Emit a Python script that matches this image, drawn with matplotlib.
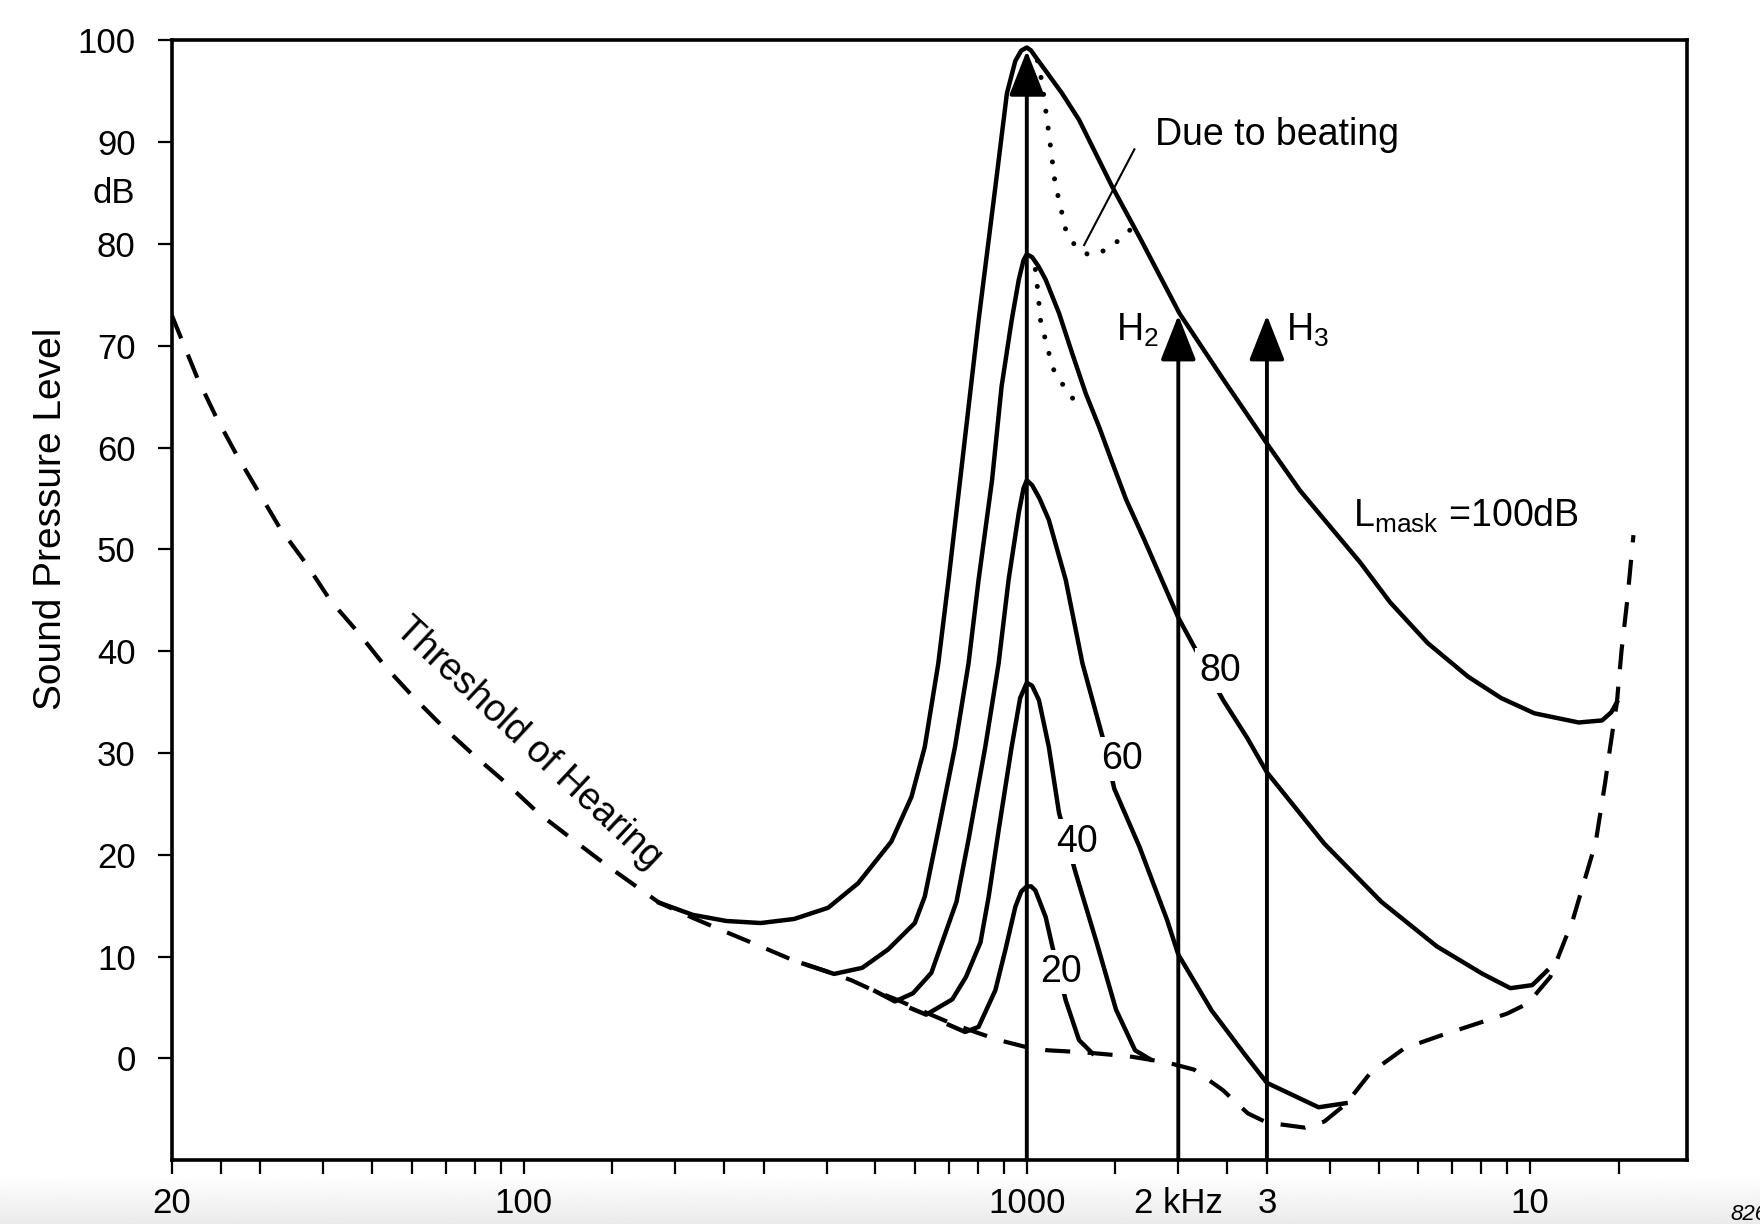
import numpy as np
import matplotlib
matplotlib.use("Agg")
import matplotlib.pyplot as plt

plt.rcParams['font.family'] = ['Liberation Sans', 'DejaVu Sans']
plt.rcParams['mathtext.fontset'] = 'custom'
plt.rcParams['mathtext.rm'] = 'Liberation Sans'
plt.rcParams['mathtext.it'] = 'Liberation Sans:italic'

# threshold of hearing (Hz, dB)
thr_f = [20, 22.5, 24.5, 26.9, 29.7, 32.8, 37.1, 41.3, 47, 53.1, 60.4, 69.4, 79.6, 93.1,
         107, 126, 146, 173, 186, 217, 253, 296, 345, 403, 447, 500, 550, 631, 711, 800,
         880, 1000, 1100, 1300, 1600, 1900, 2150, 2450, 2750, 3000, 3570, 3900, 4300,
         4820, 5630, 6600, 8050, 9000, 9900, 10970, 12160, 13500, 14100, 14400, 14880,
         15200, 15600, 16050]
thr_db = [73.0, 66.8, 63.0, 59.3, 55.7, 52.1, 48.5, 45.0, 41.8, 38.5, 35.5, 32.5, 29.8, 26.9,
          24.1, 21.4, 19.0, 16.4, 15.3, 13.8, 12.4, 11.0, 9.6, 8.5, 7.7, 6.6, 5.8, 4.5, 3.4, 2.5,
          1.8, 1.1, 0.8, 0.6, 0.2, -0.4, -1.1, -3.1, -5.4, -6.3, -6.8, -6.2, -4.5,
          -1.4, 1.0, 2.2, 3.6, 4.4, 5.4, 8.0, 13.6, 21.2, 27.1, 30.3, 35.0,
          40.1, 45.0, 51.4]

# masked thresholds for a 1 kHz masker
m100_f = [186, 217, 253, 296, 345, 403, 462, 538, 590, 627, 667, 699, 737, 802, 866, 913, 949,
          975, 1000, 1020, 1040, 1087, 1175, 1270, 1479, 1674, 2010, 2450, 3000, 3488, 4060,
          4600, 5272, 6260, 7530, 8760, 10200, 12490, 13900, 14500, 14880]
m100_db = [15.3, 14.1, 13.5, 13.3, 13.7, 14.8, 17.2, 21.3, 25.7, 30.6, 38.8, 47.0, 56.8, 72.5,
           85.6, 94.8, 98.0, 99.0, 99.3, 99.0, 98.4, 97.1, 94.8, 92.2, 85.6, 80.7, 73.2, 66.8,
           60.4, 55.8, 51.9, 48.7, 44.8, 40.8, 37.5, 35.4, 33.9, 33.0, 33.2, 34.0, 35.0]

m80_f = [360, 414, 471, 530, 599, 627, 667, 720, 766, 802, 853, 891, 933, 964, 985, 1000, 1025,
         1055, 1090, 1159, 1230, 1310, 1393, 1479, 1575, 1710, 2000, 2455, 2740, 3000, 3900,
         5060, 6530, 8050, 9140, 10100, 10800]
m80_db = [9.3, 8.3, 8.9, 10.7, 13.3, 15.9, 22.4, 30.6, 38.8, 47.0, 56.8, 66.0, 72.5, 76.5, 78.4,
          79.0, 78.7, 77.8, 76.5, 73.2, 69.3, 65.3, 62.0, 58.5, 54.9, 51.0, 43.3, 35.2, 31.5,
          28.1, 21.1, 15.4, 11.0, 8.3, 6.9, 7.2, 8.6]

m60_f = [500, 547, 594, 646, 725, 766, 827, 879, 920, 964, 985, 1000, 1025, 1060, 1106, 1195,
         1290, 1414, 1492, 1674, 1900, 2000, 2330, 2720, 3000, 3800, 4300]
m60_db = [6.6, 5.6, 6.4, 8.4, 15.4, 21.5, 30.6, 38.8, 47.0, 53.6, 56.0, 56.8, 56.3, 55.0, 52.9,
          47.0, 38.8, 31.6, 26.5, 20.8, 13.6, 10.2, 4.7, 0.3, -2.4, -4.8, -4.4]

m40_f = [590, 631, 711, 757, 809, 840, 879, 933, 970, 1000, 1025, 1057, 1106, 1159, 1251, 1378,
         1504, 1641, 1760]
m40_db = [4.9, 4.3, 5.8, 8.0, 11.4, 15.9, 22.4, 30.6, 35.4, 36.9, 36.6, 35.2, 30.6, 24.1, 18.2,
          11.3, 4.8, 0.8, -0.1]

m20_f = [700, 754, 802, 866, 907, 949, 975, 1000, 1020, 1040, 1090, 1124, 1195, 1270, 1350]
m20_db = [3.3, 2.6, 3.1, 6.7, 10.7, 14.9, 16.4, 16.9, 16.9, 16.5, 13.9, 11.0, 5.7, 1.8, 0.5]

# beating regions (dotted)
beat100_f = [1050, 1071, 1106, 1138, 1195, 1251, 1330, 1436, 1527, 1622]
beat100_db = [98.0, 96.0, 90.9, 86.0, 81.4, 79.7, 78.9, 79.4, 80.4, 81.6]
beat80_f = [1040, 1048, 1065, 1106, 1132, 1175, 1230, 1290]
beat80_db = [77.5, 76.1, 72.5, 69.3, 67.6, 66.3, 64.9, 64.0]

# masker and harmonics
tone_f = [1000, 2000, 3000]
tone_db = [99, 73, 73]

level_labels = ['20', '40', '60', '80']
level_label_f = [1168, 1256, 1544, 2420]
level_label_db = [8.5, 21.3, 29.4, 38.1]

xtick_pos = [20, 25, 30, 40, 50, 60, 70, 80, 90, 100, 150, 200, 250, 300, 400, 500, 600, 700,
             800, 900, 1000, 1500, 2000, 2500, 3000, 4000, 5000, 6000, 7000, 8000, 9000,
             10000, 15000]
xtick_lab = {20: '20', 100: '100', 1000: '1000', 2000: '2 kHz', 3000: '3', 10000: '10'}

fig = plt.figure(figsize=(17.6, 12.24), dpi=100)

# light grey band at the bottom of the scan
bg = fig.add_axes([0, 0, 1, 0.04], zorder=-5)
bg.imshow(np.linspace(1.0, 0.92, 64)[:, None], cmap='gray', vmin=0, vmax=1,
          aspect='auto', extent=[0, 1, 0, 1])
bg.axis('off')

ax = fig.add_axes([0.0976, 0.0521, 0.8609, 0.9149])
ax.set_xscale('log')
ax.set_xlim(20, 20500)
ax.set_ylim(-10, 100)

lw = 3.2
thr_line, = ax.plot(thr_f, thr_db, color='black', lw=3.0, solid_capstyle='butt')
thr_line.set_dashes((6, 4.2))
for f, db in [(m100_f, m100_db), (m80_f, m80_db), (m60_f, m60_db), (m40_f, m40_db), (m20_f, m20_db)]:
    ax.plot(f, db, color='black', lw=lw, solid_joinstyle='round')
for f, db in [(beat100_f, beat100_db), (beat80_f, beat80_db)]:
    ax.plot(f, db, color='black', lw=3.6, linestyle=(0, (0.01, 3.4)), dash_capstyle='round')

for f, top in zip(tone_f, tone_db):
    ax.annotate('', xy=(f, top), xytext=(f, -10),
                arrowprops=dict(arrowstyle='-|>,head_length=1.4,head_width=0.55',
                                mutation_scale=20, lw=2.8, color='black',
                                shrinkA=0, shrinkB=0))

for lab, f, db in zip(level_labels, level_label_f, level_label_db):
    ax.text(f, db, lab, ha='center', va='center', fontsize=27,
            bbox=dict(fc='white', ec='none', pad=3))

ax.text(1800, 90.7, 'Due to beating', ha='left', va='center', fontsize=27)
ax.plot([1300, 1636], [79.9, 89.3], color='black', lw=1.5)
ax.text(4450, 52.2, r'L$_{\mathrm{mask}}$ =100dB', ha='left', va='baseline', fontsize=27)
ax.text(1830, 71.5, r'H$_{\mathrm{2}}$', ha='right', va='center', fontsize=27)
ax.text(3280, 71.5, r'H$_{\mathrm{3}}$', ha='left', va='center', fontsize=27)
ax.text(102, 31.0, 'Threshold of Hearing', rotation=-43, rotation_mode='anchor',
        ha='center', va='center', fontsize=27)

ax.set_xticks(xtick_pos, labels=[xtick_lab.get(t, '') for t in xtick_pos])
ax.xaxis.set_minor_locator(matplotlib.ticker.NullLocator())
ax.set_yticks(range(0, 101, 10))
ax.tick_params(direction='out', length=10, width=1.6, labelsize=25, pad=16)
ax.tick_params(axis='x', pad=9)
for s in ax.spines.values():
    s.set_linewidth(2.6)

ax.text(-0.0242, 85, 'dB', transform=ax.get_yaxis_transform(), ha='right', va='center', fontsize=25)
ax.text(-0.080, 53, 'Sound Pressure Level', transform=ax.get_yaxis_transform(), rotation=90,
        ha='center', va='center', fontsize=28)

fig.text(0.983, 0.016, '826', ha='left', va='top', fontsize=16, style='italic')

fig.savefig('out.png', dpi=100)
